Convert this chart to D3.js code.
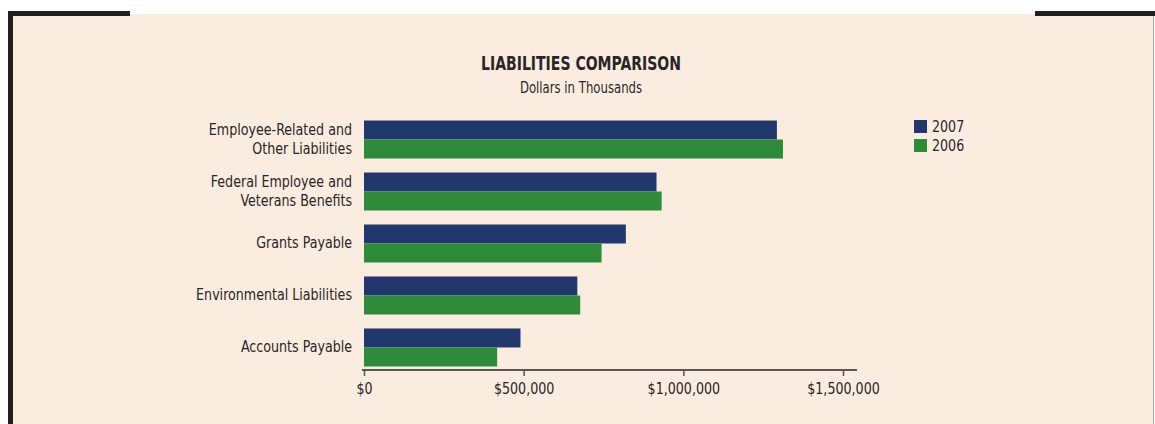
<!DOCTYPE html>
<html>
<head>
<meta charset="utf-8">
<script src="https://cdn.jsdelivr.net/npm/d3@7"></script>
<style>
  body { margin: 0; background: #fff; }
  text { font-family: "DejaVu Sans Condensed", "Liberation Sans Narrow", sans-serif; fill: #2a2526; }
</style>
</head>
<body>
<div id="chart"></div>
<script>
var categories = [
  ["Employee-Related and", "Other Liabilities"],
  ["Federal Employee and", "Veterans Benefits"],
  ["Grants Payable"],
  ["Environmental Liabilities"],
  ["Accounts Payable"]
];
var years = ["2007", "2006"];
var values2007 = [1293000, 916000, 820000, 668000, 490000];
var values2006 = [1312000, 932000, 744000, 677000, 417000];
var tickValues = [0, 500000, 1000000, 1500000];
var colors = ["#22376e", "#2e8b3a"];

var width = 1155, height = 424;
var svg = d3.select("#chart").append("svg").attr("width", width).attr("height", height);

// panel + frame
svg.append("rect").attr("x", 13).attr("y", 14).attr("width", 1140).attr("height", 410).attr("fill", "#faede0");
svg.append("rect").attr("x", 8).attr("y", 11).attr("width", 5).attr("height", 413).attr("fill", "#231f20");
svg.append("rect").attr("x", 8).attr("y", 11).attr("width", 122).attr("height", 5).attr("fill", "#231f20");
svg.append("rect").attr("x", 1035).attr("y", 11).attr("width", 120).attr("height", 5).attr("fill", "#231f20");
svg.append("rect").attr("x", 1153).attr("y", 16).attr("width", 1).attr("height", 408).attr("fill", "#b0a8a2");

// condensed look: squeeze text horizontally
function squeeze(sel, cx, cy, k) {
  sel.attr("transform", "translate(" + cx + "," + cy + ") scale(" + k + ",1)");
}

squeeze(svg.append("text").attr("text-anchor", "middle")
  .style("font-size", "19.5px").style("font-weight", "bold").text("LIABILITIES COMPARISON"), 581, 70, 0.8);
squeeze(svg.append("text").attr("text-anchor", "middle")
  .style("font-size", "15.5px").text("Dollars in Thousands"), 581, 93, 0.84);

var x = d3.scaleLinear().domain([0, 1500000]).range([364, 843]);
var y = d3.scaleBand().domain(d3.range(categories.length)).range([113.5, 373.5]).paddingInner(0.269).paddingOuter(0.135);
var yInner = d3.scaleBand().domain(years).range([0, y.bandwidth()]);

var rows = categories.map(function(c, i) {
  return {label: c, vals: [values2007[i], values2006[i]]};
});

var group = svg.selectAll(".row").data(rows).enter().append("g")
  .attr("class", "row")
  .attr("transform", function(d, i) { return "translate(0," + y(i) + ")"; });

group.selectAll("rect").data(function(d) { return d.vals; }).enter().append("rect")
  .attr("x", x(0))
  .attr("y", function(d, j) { return yInner(years[j]); })
  .attr("width", function(d) { return x(d) - x(0); })
  .attr("height", yInner.bandwidth())
  .attr("fill", function(d, j) { return colors[j]; });

group.append("text")
  .attr("text-anchor", "end")
  .style("font-size", "16px")
  .attr("transform", "translate(352,0) scale(0.88,1)")
  .each(function(d) {
    var t = d3.select(this);
    var mid = y.bandwidth() / 2;
    var n = d.label.length;
    d.label.forEach(function(line, k) {
      t.append("tspan").attr("x", 0)
        .attr("y", mid + 5 + (k - (n - 1) / 2) * 19)
        .text(line);
    });
  });

// axis
var axis = svg.append("g").attr("transform", "translate(0,370)")
  .call(d3.axisBottom(x).tickValues(tickValues).tickSize(-5).tickPadding(10)
    .tickFormat(function(d) { return "$" + d3.format(",")(d); }));
axis.select(".domain").remove();
axis.append("line").attr("x1", 362).attr("x2", 857).attr("stroke", "#555").attr("stroke-width", 2);
axis.selectAll(".tick line").attr("stroke", "#555").attr("stroke-width", 1.5).attr("y2", 6);
axis.selectAll(".tick text").style("font-size", "16px").style("font-family", null).attr("fill", "#2a2526")
  .attr("dy", "0.9em").attr("transform", "scale(0.88,1)");

// legend
var legend = svg.selectAll(".legend").data(years).enter().append("g")
  .attr("transform", function(d, i) { return "translate(914," + (120 + i * 19) + ")"; });
legend.append("rect").attr("width", 13).attr("height", 13).attr("fill", function(d, i) { return colors[i]; });
legend.append("text").attr("transform", "translate(18,12) scale(0.88,1)").style("font-size", "16px").text(function(d) { return d; });
</script>
</body>
</html>
